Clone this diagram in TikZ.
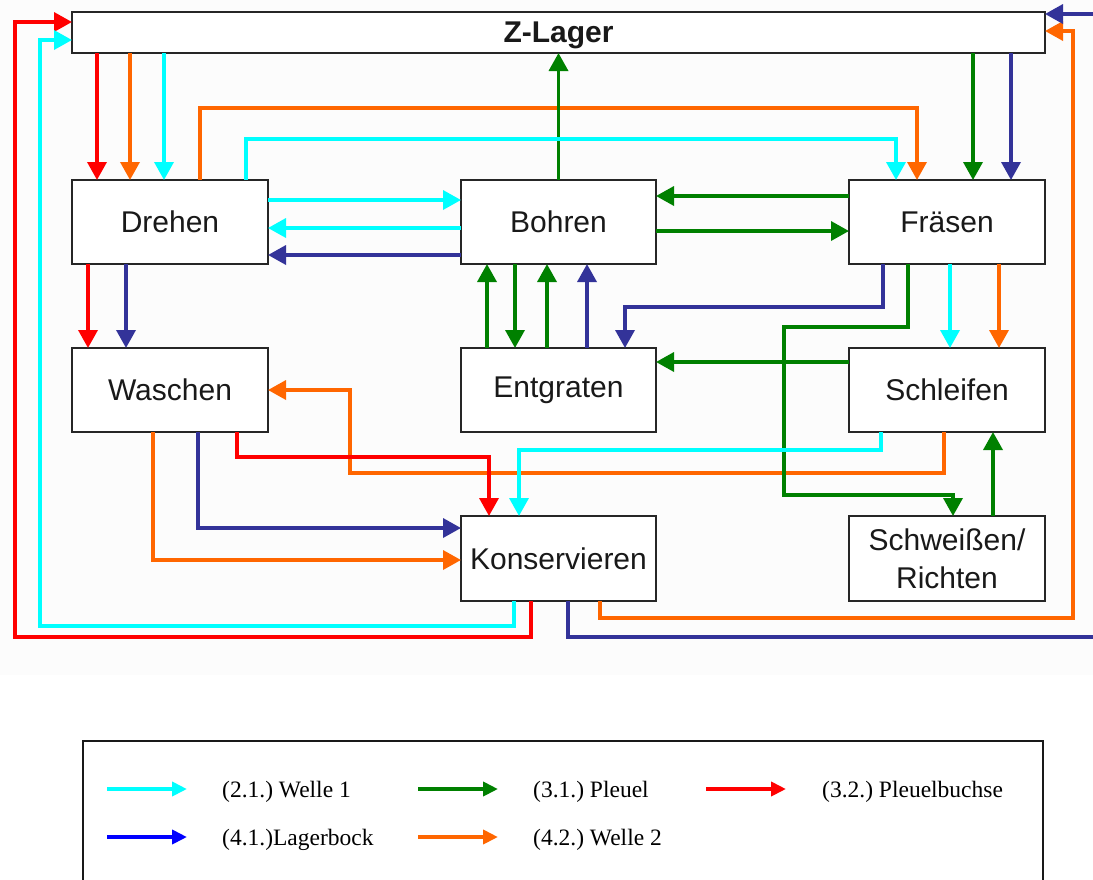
\documentclass[tikz,border=0pt]{standalone}
\usepackage{fontspec}
\setmainfont{Liberation Serif}
\newfontfamily\lblfont{Liberation Sans}
\usetikzlibrary{arrows.meta}
\definecolor{cCyan}{RGB}{0,255,255}
\definecolor{cGreen}{RGB}{0,128,0}
\definecolor{cRed}{RGB}{255,0,0}
\definecolor{cNavy}{RGB}{51,51,153}
\definecolor{cOrange}{RGB}{255,102,0}
\definecolor{cBlue}{RGB}{0,0,255}
\frenchspacing
\begin{document}
\begin{tikzpicture}[x=1pt,y=-1pt,line join=miter,
  box/.style={draw=black!85, line width=2pt, fill=white, minimum width=196pt,
    minimum height=84pt, anchor=north west, inner sep=1pt, outer sep=0pt,
    font=\lblfont\fontsize{30}{38}\selectfont, text=black!90, align=center},
  link/.style={line width=3.5pt, -{Triangle[length=18pt,width=19pt]}},
  wcyan/.style={link, draw=cCyan},
  wgreen/.style={link, draw=cGreen},
  wred/.style={link, draw=cRed},
  wnavy/.style={link, draw=cNavy},
  worange/.style={link, draw=cOrange},
  legarrow/.style={line width=4pt, -{Triangle[length=15pt,width=14pt]}},
  legtext/.style={anchor=base west, inner sep=0pt, font=\fontsize{23.5}{28}\selectfont}]
\useasboundingbox (0,0) rectangle (1093,879);
\clip (0,0) rectangle (1093,879);
\fill[black!1] (0,0) rectangle (1093,675);

% boxes
\node[box, minimum width=973pt, minimum height=41pt, text depth=0pt, font=\lblfont\bfseries\fontsize{30}{36}\selectfont] (zl) at (72,12) {Z-Lager};
\node[box] (drehen) at (72,180) {Drehen};
\node[box, minimum width=195pt] (bohren) at (461,180) {Bohren};
\node[box] (fraesen) at (849,180) {Fräsen};
\node[box] (waschen) at (72,348) {Waschen};
\node[box, minimum width=195pt] (entgraten) at (461,348) {Entgraten};
\node[box] (schleifen) at (849,348) {Schleifen};
\node[box, minimum width=195pt, minimum height=85pt] (kons) at (461,516) {Konservieren};
\node[box, minimum height=85pt] (schw) at (849,516) {Schweißen/\\Richten};

% orange (4.2.) Welle 2
\draw[worange] (zl.south -| 130,0) -- (drehen.north -| 130,0);
\draw[worange] (drehen.north -| 200,0) |- (917,108) -- (fraesen.north -| 917,0);
\draw[worange] (fraesen.south -| 999,0) -- (schleifen.north -| 999,0);
\draw[worange] (kons.south -| 600,0) |- (1073,618) |- (zl.east |- 0,31);
\draw[worange] (waschen.south -| 153,0) |- (kons.west |- 0,560);
\draw[worange] (schleifen.south -| 944,0) |- (350,473) |- (waschen.east |- 0,390);

% green (3.1.) Pleuel
\draw[wgreen] (bohren.north) -- (zl.south -| bohren.north);
\draw[wgreen] (zl.south -| 973,0) -- (fraesen.north -| 973,0);
\draw[wgreen] (fraesen.west |- 0,196) -- (bohren.east |- 0,196);
\draw[wgreen] (bohren.east |- 0,231) -- (fraesen.west |- 0,231);
\draw[wgreen] (entgraten.north -| 487,0) -- (bohren.south -| 487,0);
\draw[wgreen] (bohren.south -| 515,0) -- (entgraten.north -| 515,0);
\draw[wgreen] (entgraten.north -| 547,0) -- (bohren.south -| 547,0);
\draw[wgreen] (schleifen.west |- 0,362) -- (entgraten.east |- 0,362);
\draw[wgreen] (fraesen.south -| 908,0) |- (784,327) |- (953,495) -- (schw.north -| 953,0);
\draw[wgreen] (schw.north -| 993,0) -- (schleifen.south -| 993,0);

% red (3.2.) Pleuelbuchse
\draw[wred] (zl.south -| 97,0) -- (drehen.north -| 97,0);
\draw[wred] (drehen.south -| 88,0) -- (waschen.north -| 88,0);
\draw[wred] (waschen.south -| 237,0) |- (489,457) -- (kons.north -| 489,0);
\draw[wred] (kons.south -| 531,0) |- (15,637) |- (zl.west |- 0,22);

% cyan (2.1.) Welle 1
\draw[wcyan] (zl.south -| 164,0) -- (drehen.north -| 164,0);
\draw[wcyan] (drehen.north -| 246,0) |- (896,139) -- (fraesen.north -| 896,0);
\draw[wcyan] (drehen.east |- 0,200) -- (bohren.west |- 0,200);
\draw[wcyan] (bohren.west |- 0,228) -- (drehen.east |- 0,228);
\draw[wcyan] (fraesen.south -| 950,0) -- (schleifen.north -| 950,0);
\draw[wcyan] (schleifen.south -| 881,0) |- (519,450) -- (kons.north -| 519,0);
\draw[wcyan] (kons.south -| 514,0) |- (40,626) |- (zl.west |- 0,40);

% navy (4.1.) Lagerbock
\draw[wnavy] (zl.south -| 1011,0) -- (fraesen.north -| 1011,0);
\draw[wnavy] (bohren.west |- 0,255) -- (drehen.east |- 0,255);
\draw[wnavy] (entgraten.north -| 587,0) -- (bohren.south -| 587,0);
\draw[wnavy] (fraesen.south -| 883,0) |- (625,307) -- (entgraten.north -| 625,0);
\draw[wnavy] (drehen.south -| 126,0) -- (waschen.north -| 126,0);
\draw[wnavy] (waschen.south -| 198,0) |- (kons.west |- 0,528);
\draw[wnavy] (kons.south -| 568,0) |- (1100,637) -- (1100,14) -- (zl.east |- 0,14);

% legend
\draw[line width=2pt, draw=black!90] (83,741) rectangle (1043,900);
\coordinate (la1) at (107,789); \coordinate (lb1) at (187,789);
\coordinate (la2) at (418,789); \coordinate (lb2) at (498,789);
\coordinate (la3) at (706,789); \coordinate (lb3) at (786,789);
\coordinate (la4) at (107,837); \coordinate (lb4) at (187,837);
\coordinate (la5) at (418,837); \coordinate (lb5) at (498,837);
\draw[legarrow, draw=cCyan] (la1) -- (lb1);
\draw[legarrow, draw=cGreen] (la2) -- (lb2);
\draw[legarrow, draw=cRed] (la3) -- (lb3);
\draw[legarrow, draw=cBlue] (la4) -- (lb4);
\draw[legarrow, draw=cOrange] (la5) -- (lb5);
\node[legtext] (t1) at (222,797) {(2.1.) Welle 1};
\node[legtext] (t2) at (533,797) {(3.1.) Pleuel};
\node[legtext] (t3) at (822,797) {(3.2.) Pleuelbuchse};
\node[legtext] (t4) at (222,845) {(4.1.)Lagerbock};
\node[legtext] (t5) at (533,845) {(4.2.) Welle 2};
\end{tikzpicture}
\end{document}
